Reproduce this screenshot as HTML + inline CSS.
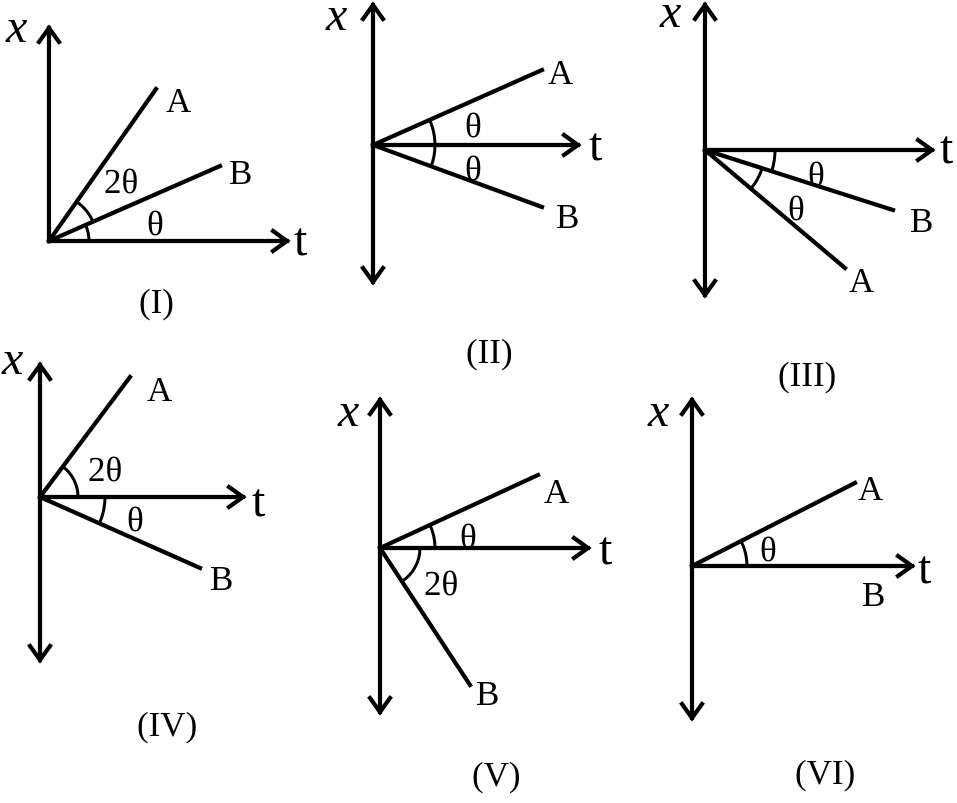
<!DOCTYPE html>
<html><head><style>html,body{margin:0;padding:0;background:#fff}</style></head>
<body>
<svg width="957" height="798" viewBox="0 0 957 798" xmlns="http://www.w3.org/2000/svg" style="font-family:'Liberation Serif',serif;font-size:35px" fill="#000">
<g stroke="#000" stroke-width="4.2" fill="none" stroke-linecap="square">
<path d="M49 241 V28 M39 42 L49 28 L59 42"/>
<path d="M49 241 H287 M273 231 L287 241 L273 251"/>
<path d="M49 241 L156 89 M49 241 L220 166"/>
<path d="M373 5 V282 M363 19 L373 5 L383 19 M363 268 L373 282 L383 268"/>
<path d="M373 145 H578 M564 135 L578 145 L564 155"/>
<path d="M373 145 L542 70 M373 145 L542 207"/>
<path d="M705 5 V295 M695 19 L705 5 L715 19 M695 281 L705 295 L715 281"/>
<path d="M705 150 H932 M918 140 L932 150 L918 160"/>
<path d="M705 150 L893 210 M705 150 L845 268"/>
<path d="M40 365 V660 M30 379 L40 365 L50 379 M30 646 L40 660 L50 646"/>
<path d="M40 497 H243 M229 487 L243 497 L229 507"/>
<path d="M40 497 L130 377 M40 497 L200 568"/>
<path d="M380 400 V712 M370 414 L380 400 L390 414 M370 698 L380 712 L390 698"/>
<path d="M380 548 H588 M574 538 L588 548 L574 558"/>
<path d="M380 548 L538 475 M380 548 L470 685"/>
<path d="M692 400 V718 M682 414 L692 400 L702 414 M682 704 L692 718 L702 704"/>
<path d="M692 566 H912 M898 556 L912 566 L898 576"/>
<path d="M692 566 L855 483"/>
</g>
<g stroke="#000" stroke-width="3" fill="none">
<path d="M89 241 A40 40 0 0 0 85.6 224.9"/>
<path d="M93 221.7 A48 48 0 0 0 76.6 201.7"/>
<path d="M429.5 119.6 A62 62 0 0 1 431.3 166"/>
<path d="M775 150 A70 70 0 0 1 771.7 171.3"/>
<path d="M762.2 168.2 A60 60 0 0 1 750.9 188.6"/>
<path d="M78 497 A38 38 0 0 0 62.8 466.6"/>
<path d="M105 497 A65 65 0 0 1 99.4 523.3"/>
<path d="M435 548 A55 55 0 0 0 429.9 524.9"/>
<path d="M420 548 A40 40 0 0 1 402 581.4"/>
<path d="M747 566 A55 55 0 0 0 741 541"/>
</g>
<g style="font-style:italic;font-size:48px">
<text x="6" y="42">x</text>
<text x="326" y="30">x</text>
<text x="660" y="27">x</text>
<text x="2" y="374">x</text>
<text x="338" y="426">x</text>
<text x="648" y="426">x</text>
</g>
<g style="font-size:48px">
<text x="294" y="255">t</text>
<text x="589" y="160">t</text>
<text x="940" y="163">t</text>
<text x="252" y="516">t</text>
<text x="599" y="564">t</text>
<text x="918" y="583">t</text>
</g>
<text x="166" y="112">A</text><text x="229" y="184">B</text>
<text x="104" y="193">2θ</text><text x="147" y="235">θ</text>
<text x="139" y="313">(I)</text>
<text x="548" y="84">A</text><text x="556" y="228">B</text>
<text x="465" y="137">θ</text><text x="465" y="180">θ</text>
<text x="466" y="363">(II)</text>
<text x="849" y="292">A</text><text x="910" y="232">B</text>
<text x="808" y="186">θ</text><text x="788" y="220">θ</text>
<text x="778" y="386">(III)</text>
<text x="147" y="401">A</text><text x="210" y="590">B</text>
<text x="88" y="481">2θ</text><text x="127" y="531">θ</text>
<text x="137" y="736">(IV)</text>
<text x="544" y="503">A</text><text x="476" y="705">B</text>
<text x="424" y="595">2θ</text><text x="460" y="548">θ</text>
<text x="472" y="786">(V)</text>
<text x="858" y="500">A</text><text x="862" y="606">B</text>
<text x="760" y="561">θ</text>
<text x="795" y="784">(VI)</text>
</svg>
</body></html>
